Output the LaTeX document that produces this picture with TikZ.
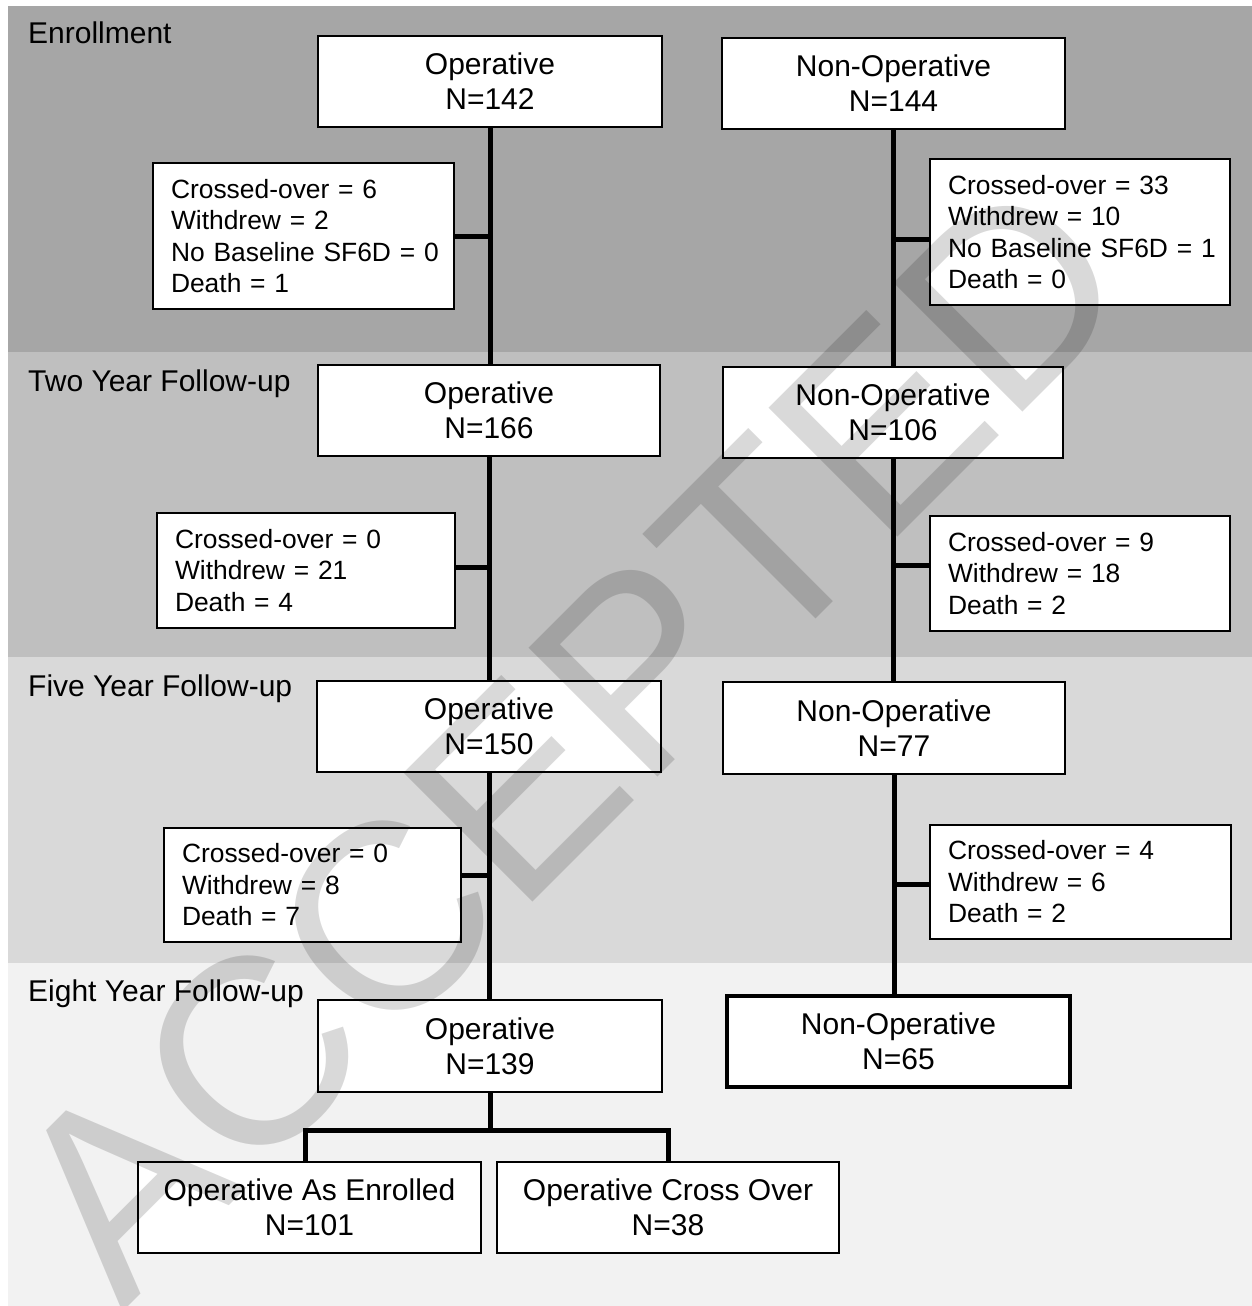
\documentclass[tikz,border=0pt]{standalone}
\usepackage{fontspec}
\setmainfont{Liberation Sans}
\definecolor{bandA}{HTML}{A6A6A6}
\definecolor{bandB}{HTML}{BFBFBF}
\definecolor{bandC}{HTML}{D9D9D9}
\definecolor{bandD}{HTML}{F2F2F2}
\newcommand{\oneline}[1]{\mbox{#1}}
\begin{document}
\begin{tikzpicture}[x=1pt,y=-1pt,
  mainbox/.style={draw=black, line width=2pt, fill=white, align=center, inner sep=0pt,
    font=\fontsize{30}{35}\selectfont},
  sidebox/.style={draw=black, line width=2pt, fill=white, align=left, inner xsep=18pt,
    inner ysep=0pt, font=\fontsize{26.4}{31.5}\selectfont},
  link/.style={line width=5pt},
  bandlabel/.style={font=\fontsize{30}{35}\selectfont, anchor=base west, inner sep=0pt}]
\useasboundingbox (0,0) rectangle (1252,1306);
\fill[white] (0,0) rectangle (1252,1306);
\fill[bandA] (8,6) rectangle (1252,352);
\fill[bandB] (8,352) rectangle (1252,657);
\fill[bandC] (8,657) rectangle (1252,963);
\fill[bandD] (8,963) rectangle (1252,1306);

\node[bandlabel] (l1) at (28,44) {Enrollment};
\node[bandlabel] (l2) at (28,391) {Two Year Follow-up};
\node[bandlabel] (l3) at (28,696) {Five Year Follow-up};
\node[bandlabel] (l4) at (28,1001) {Eight Year Follow-up};

% Enrollment
\node[mainbox, minimum width=344pt, minimum height=91pt] (eop) at (490,81.5) {Operative\\N=142};
\node[mainbox, minimum width=343pt, minimum height=91pt] (enon) at (893.5,83.5) {Non-Operative\\N=144};
\node[sidebox, text width=265pt, minimum height=146pt] (elx) at (303.5,236)
  {\oneline{Crossed-over = 6}\\\oneline{Withdrew = 2}\\\oneline{No Baseline SF6D = 0}\\\oneline{Death = 1}};
\node[sidebox, text width=264pt, minimum height=146pt] (erx) at (1080,232)
  {\oneline{Crossed-over = 33}\\\oneline{Withdrew = 10}\\\oneline{No Baseline SF6D = 1}\\\oneline{Death = 0}};

% Two year
\node[mainbox, minimum width=342pt, minimum height=91pt] (top) at (489,410.5) {Operative\\N=166};
\node[mainbox, minimum width=340pt, minimum height=91pt] (tnon) at (893,412.5) {Non-Operative\\N=106};
\node[sidebox, text width=262pt, minimum height=115pt] (tlx) at (306,570.5)
  {\oneline{Crossed-over = 0}\\\oneline{Withdrew = 21}\\\oneline{Death = 4}};
\node[sidebox, text width=264pt, minimum height=115pt] (trx) at (1080,573.5)
  {\oneline{Crossed-over = 9}\\\oneline{Withdrew = 18}\\\oneline{Death = 2}};

% Five year
\node[mainbox, minimum width=344pt, minimum height=91pt] (fop) at (489,726.5) {Operative\\N=150};
\node[mainbox, minimum width=342pt, minimum height=92pt] (fnon) at (894,728) {Non-Operative\\N=77};
\node[sidebox, text width=261pt, minimum height=114pt] (flx) at (312.5,885)
  {\oneline{Crossed-over = 0}\\\oneline{Withdrew = 8}\\\oneline{Death = 7}};
\node[sidebox, text width=265pt, minimum height=114pt] (frx) at (1080.5,882)
  {\oneline{Crossed-over = 4}\\\oneline{Withdrew = 6}\\\oneline{Death = 2}};

% Eight year
\node[mainbox, minimum width=344pt, minimum height=92pt] (gop) at (490,1046) {Operative\\N=139};
\node[mainbox, line width=3.5pt, minimum width=343pt, minimum height=91pt] (gnon) at (898.5,1041.5) {Non-Operative\\N=65};
\node[mainbox, minimum width=343pt, minimum height=91pt] (gas) at (309.5,1207.5) {Operative As Enrolled\\N=101};
\node[mainbox, minimum width=342pt, minimum height=91pt] (gco) at (668,1207.5) {Operative Cross Over\\N=38};

% trunks
\draw[link] (eop.south) -- (eop.south |- top.north);
\draw[link] (enon.south) -- (enon.south |- tnon.north);
\draw[link] (top.south) -- (top.south |- fop.north);
\draw[link] (tnon.south) -- (tnon.south |- fnon.north);
\draw[link] (fop.south) -- (fop.south |- gop.north);
\draw[link] (fnon.south) -- (fnon.south |- gnon.north);

% branches
\draw[link] (elx.east) -- (elx.east -| eop.south);
\draw[link] ([yshift=-7pt]erx.west) -- ([yshift=-7pt]erx.west -| enon.south);
\draw[link] ([yshift=3.5pt]tlx.east) -- ([yshift=3.5pt]tlx.east -| top.south);
\draw[link] ([yshift=8.5pt]trx.west) -- ([yshift=8.5pt]trx.west -| tnon.south);
\draw[link] ([yshift=10pt]flx.east) -- ([yshift=10pt]flx.east -| fop.south);
\draw[link] ([yshift=-2pt]frx.west) -- ([yshift=-2pt]frx.west -| fnon.south);

% fork
\coordinate (fork) at (490,1130);
\draw[link] (gop.south) -- (fork);
\draw[link, line join=miter] ([xshift=-4.5pt]gas.north) |- (gco.north |- fork) -- (gco.north);

% watermark
\begin{scope}
\clip (0,0) rectangle (1252,1306);
\node[rotate=45, inner sep=0pt, text=black, text opacity=0.15,
  font=\fontsize{265}{265}\selectfont] (wm) at (568,738) {ACCEPTED};
\end{scope}
\end{tikzpicture}
\end{document}
